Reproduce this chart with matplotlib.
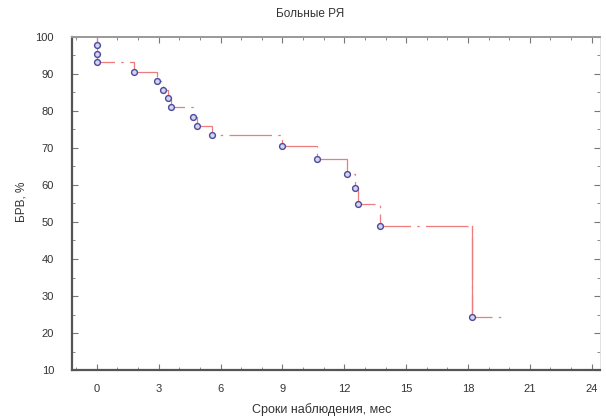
import matplotlib
matplotlib.use('Agg')
import matplotlib.pyplot as plt
from matplotlib.ticker import MultipleLocator

# Кривая выживаемости (Каплан-Мейер), больные РЯ
months = [0, 0, 0, 1.8, 2.9, 3.2, 3.45, 3.6, 4.65, 4.85, 5.6,
          9.0, 10.7, 12.15, 12.5, 12.65, 13.75, 18.2]
brv = [97.8, 95.3, 93.1, 90.4, 88.2, 85.8, 83.4, 81.1, 78.5, 76.0, 73.6,
       70.6, 67.0, 63.0, 59.1, 54.8, 48.8, 24.4]
t_end = 19.6
x_ticks = [0, 3, 6, 9, 12, 15, 18, 21, 24]
y_ticks = [10, 20, 30, 40, 50, 60, 70, 80, 90, 100]

plt.rcParams['font.family'] = ['Liberation Sans', 'DejaVu Sans']
plt.rcParams['font.size'] = 8

fig = plt.figure(figsize=(6.06, 4.2), dpi=100)
ax = fig.add_axes([0.119, 0.119, 0.871, 0.793])

# ступенчатая линия
xs = [0] + months + [t_end]
ys = [100] + brv + [brv[-1]]
ax.plot(xs, ys, drawstyle='steps-post', color='#ee7c7c', lw=0.9,
        linestyle=(0, (34, 5, 2, 5)), zorder=2)
# последний спад - сплошной
ax.plot([months[-1], months[-1]], [brv[-2], brv[-1]], color='#ee7c7c',
        lw=0.9, zorder=2)

# события
ax.plot(months, brv, 'o', ms=4.2, mfc='#d4d4f2', mec='#4b4b9c', mew=1.0,
        linestyle='none', zorder=3)

ax.set_xlim(-1.2, 24.4)
ax.set_ylim(10, 100)
ax.set_xticks(x_ticks)
ax.set_yticks(y_ticks)
ax.xaxis.set_minor_locator(MultipleLocator(1))
ax.yaxis.set_minor_locator(MultipleLocator(5))
ax.tick_params(which='both', direction='in', top=True, right=True,
               colors='#777777', labelcolor='#333333')
ax.tick_params(which='major', length=4, width=0.8, pad=10)
ax.tick_params(which='minor', length=2, width=0.6)
ax.tick_params(axis='y', pad=13)

for side in ['left', 'bottom']:
    ax.spines[side].set_color('#555555')
    ax.spines[side].set_linewidth(1.6)
ax.spines['top'].set_color('#999999')
ax.spines['top'].set_linewidth(1.4)
ax.spines['right'].set_color('#dddddd')
ax.spines['right'].set_linewidth(0.6)

fig.text(0.512, 0.967, 'Больные РЯ', ha='center', va='center',
         fontsize=8.5, color='#333333')
fig.text(0.531, 0.025, 'Сроки наблюдения, мес', ha='center', va='center',
         fontsize=9, color='#333333')
fig.text(0.035, 0.52, 'БРВ, %', ha='center', va='center', rotation=90,
         fontsize=8.5, color='#333333')

fig.savefig('out.png', dpi=100)
